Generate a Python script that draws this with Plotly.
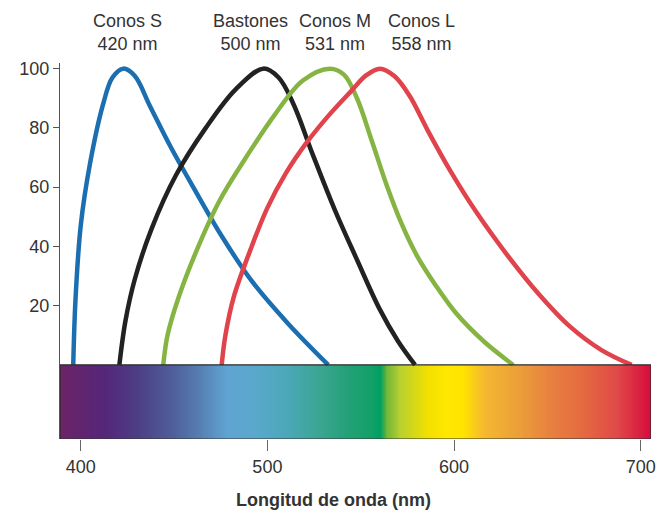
import numpy as np
import plotly.graph_objects as go

# ---- data ----
s_nm = [396.0, 397.2, 400.0, 405.0, 412.0, 417.0, 422.8, 429.0, 437.0, 448.0, 462.0, 476.0,
        492.0, 511.0, 532.6]
s_val = [0, 22, 47, 68, 88, 97, 100, 97.5, 87.5, 73.8, 58.1, 43.0,
         28.0, 14.0, 0]

rod_nm = [420.7, 424.0, 429.0, 438.0, 451.0, 467.0, 483.0, 497.8, 506.0, 514.0, 524.0, 536.0,
          548.0, 560.0, 570.0, 579.1]
rod_val = [0, 15, 29, 46, 64, 80, 93, 100, 97, 88, 71.5, 52.5,
           35.5, 19, 8, 0]

m_nm = [444.2, 446.5, 452.0, 461.0, 474.0, 488.0, 504.0, 519.0, 533.5, 541.0, 548.0, 556.0,
        564.0, 572.0, 580.0, 590.0, 601.0, 616.0, 631.7]
m_val = [0, 10, 22, 37, 55, 69.5, 84.5, 96, 100, 98, 90, 75.5,
         60.5, 47.5, 37, 27, 17.5, 7.9, 0]

l_nm = [475.5, 477.5, 482.0, 491.0, 500.0, 510.0, 521.0, 533.0, 545.0, 553.0, 560.3, 568.0,
        576.0, 586.0, 598.0, 612.0, 628.0, 645.0, 662.0, 679.0, 695.1]
l_val = [0, 10, 23, 39, 53, 64.8, 75, 84.3, 92.5, 97.8, 100, 97.5,
         91, 79, 65.5, 51.5, 37.5, 24.2, 13, 5, 0]

labels = ["Conos S<br>420 nm", "Bastones<br>500 nm", "Conos M<br>531 nm", "Conos L<br>558 nm"]

spectrum_nm = [388.9, 390, 413, 431, 449, 461, 479, 493, 511, 529, 543, 556, 560.5,
               564, 571, 586, 596, 605, 616, 634, 652, 669, 687, 704, 705.5]
spectrum_colors = ["#6a2468", "#6a2468", "#55267a", "#4d3f86", "#4f5e9a", "#5478ae",
                   "#5fa5d3", "#5aa8cc", "#4aa8b8", "#3aa590", "#24a078", "#12a068",
                   "#00a060", "#70b638", "#b8d030", "#f2e000", "#ffe800", "#ffe400",
                   "#f5b830", "#eba038", "#e88040", "#e46a40", "#e04a48", "#d8103e",
                   "#d8103e"]

x_ticks = [400, 500, 600, 700]
y_ticks = [20, 40, 60, 80, 100]

# ---- figure ----
FONT = "Liberation Sans, Arial, Helvetica, sans-serif"
TXT = "#333333"
x_range = [388.9, 705.5]
y_range = [-25, 101.9]
bar_bottom = -25

lo, hi = min(spectrum_nm), max(spectrum_nm)
cscale = [[(v - lo) / (hi - lo), c] for v, c in zip(spectrum_nm, spectrum_colors)]
edges = np.linspace(lo, hi, 640)
mids = (edges[:-1] + edges[1:]) / 2

fig = go.Figure()
fig.add_trace(go.Heatmap(
    x=edges, y=[bar_bottom, 0], z=[mids], colorscale=cscale, zmin=lo, zmax=hi,
    showscale=False, hoverinfo="skip"))

for xs, ys, col in [(s_nm, s_val, "#1b6fb0"), (rod_nm, rod_val, "#222222"),
                    (m_nm, m_val, "#86b443"), (l_nm, l_val, "#e0434b")]:
    fig.add_trace(go.Scatter(x=xs, y=ys, mode="lines",
                             line=dict(color=col, width=4.5, shape="spline", smoothing=1.0),
                             hoverinfo="skip", showlegend=False))

fig.add_shape(type="rect", x0=lo, x1=hi, y0=bar_bottom, y1=0,
              line=dict(color="#2a2a2a", width=1.2), layer="above")

label_x = [424.8, 490.7, 536.2, 582.8]
for lx, t in zip(label_x, labels):
    fig.add_annotation(x=lx, y=1.0824, xref="x", yref="paper", text=t, showarrow=False,
                       font=dict(family=FONT, size=18, color=TXT), yanchor="middle",
                       align="center")

fig.add_annotation(x=0.4636, y=-0.162, xref="paper", yref="paper",
                   text="<b>Longitud de onda (nm)</b>", showarrow=False,
                   font=dict(family=FONT, size=18, color=TXT), yanchor="middle")

fig.update_layout(
    width=662, height=513,
    margin=dict(l=60, r=11, t=63, b=74, pad=0),
    paper_bgcolor="white", plot_bgcolor="white",
    showlegend=False,
    font=dict(family=FONT, size=18, color=TXT),
    xaxis=dict(range=x_range, tickvals=x_ticks, ticks="outside", ticklen=11,
               tickcolor="#666666", tickwidth=1.2, showgrid=False, zeroline=False,
               showline=False, automargin=False, tickfont=dict(size=18, color=TXT)),
    yaxis=dict(range=y_range, tickvals=y_ticks, ticks="outside", ticklen=6,
               tickcolor="#555555", tickwidth=1.2, showgrid=False, zeroline=False,
               showline=True, linecolor="#555555", linewidth=1.2, automargin=False,
               tickfont=dict(size=18, color=TXT)),
)

fig.write_html("out.html")
